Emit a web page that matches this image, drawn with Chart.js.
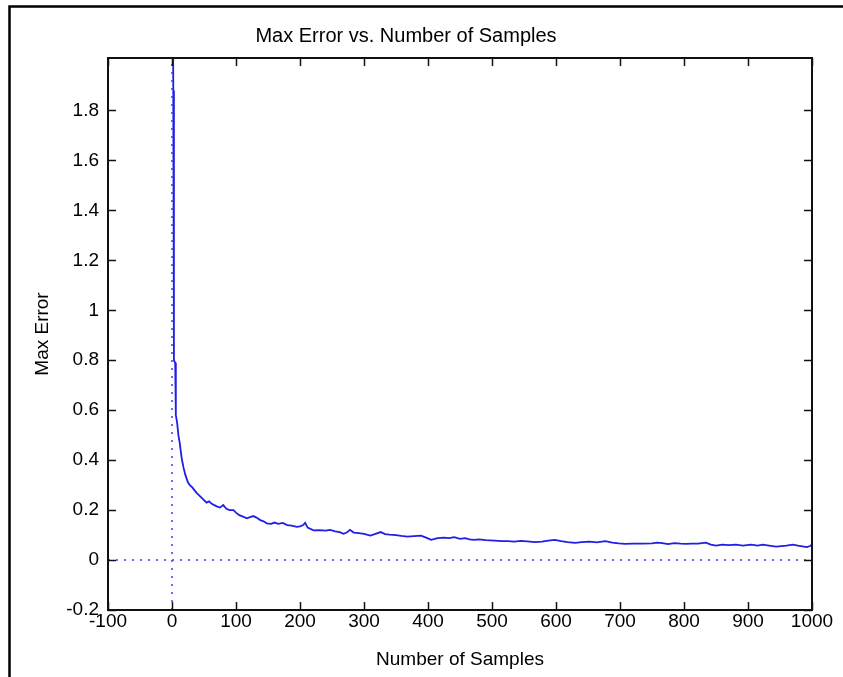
<!DOCTYPE html>
<html><head><meta charset="utf-8">
<script src="https://cdn.jsdelivr.net/npm/chart.js@4/dist/chart.umd.min.js"></script>
<style>html,body{margin:0;padding:0;background:#fff;}canvas{display:block;}</style>
</head><body>
<canvas id="c" width="843" height="677"></canvas>
<script>
const titleText = 'Max Error vs. Number of Samples';
const xAxisLabel = 'Number of Samples';
const yAxisLabel = 'Max Error';

const sampleCounts = [1,2,3,5,6,8,10,12,15,18,21,25,28,32,35,38,42,46,50,54,58,62,66,70,75,80,85,90,96,100,105,110,117,122,127,132,138,143,148,155,160,166,173,180,187,195,200,205,208,212,221,230,240,247,255,262,268,273,278,284,292,300,310,318,326,333,340,350,358,368,378,389,397,405,415,425,433,441,450,458,465,472,480,490,504,515,525,535,545,555,567,578,588,598,608,618,630,640,652,664,677,688,698,708,720,735,750,758,766,775,785,795,803,812,822,834,842,850,860,870,881,892,905,915,923,933,944,952,960,970,978,985,992,997,1000];
const maxErrors = [2.6,1.88,0.80,0.79,0.58,0.55,0.50,0.47,0.41,0.37,0.34,0.31,0.30,0.29,0.28,0.27,0.26,0.25,0.24,0.23,0.235,0.225,0.22,0.215,0.21,0.22,0.205,0.20,0.20,0.19,0.18,0.175,0.167,0.172,0.176,0.17,0.16,0.155,0.147,0.145,0.15,0.145,0.149,0.14,0.138,0.133,0.135,0.14,0.149,0.13,0.119,0.12,0.118,0.121,0.115,0.112,0.105,0.11,0.121,0.11,0.108,0.105,0.098,0.105,0.112,0.104,0.102,0.10,0.097,0.094,0.096,0.098,0.09,0.081,0.088,0.09,0.088,0.092,0.085,0.088,0.083,0.081,0.083,0.08,0.078,0.076,0.076,0.074,0.077,0.075,0.072,0.074,0.078,0.081,0.076,0.072,0.069,0.072,0.074,0.071,0.076,0.07,0.067,0.065,0.066,0.066,0.067,0.07,0.068,0.064,0.068,0.066,0.065,0.066,0.066,0.07,0.062,0.058,0.062,0.06,0.062,0.058,0.062,0.058,0.062,0.058,0.054,0.056,0.058,0.062,0.058,0.055,0.052,0.056,0.062];

const xLimits = [-100, 1000];
const yLimits = [-0.2, 2.01];
const xTickValues = [-100,0,100,200,300,400,500,600,700,800,900,1000];
const xTickLabels = ['-100','0','100','200','300','400','500','600','700','800','900','1000'];
const yTickValues = [-0.2,0,0.2,0.4,0.6,0.8,1,1.2,1.4,1.6,1.8];
const yTickLabels = ['-0.2','0','0.2','0.4','0.6','0.8','1','1.2','1.4','1.6','1.8'];

const zeroVerticalLine = [{x:0,y:yLimits[0]},{x:0,y:yLimits[1]}];
const zeroHorizontalLine = [{x:xLimits[0],y:0},{x:xLimits[1],y:0}];

const FONT = "'Liberation Sans', Arial, Helvetica, sans-serif";

const framePlugin = {
  id: 'frame',
  beforeDraw(chart) {
    const ctx = chart.ctx;
    ctx.save();
    ctx.fillStyle = '#fff';
    ctx.fillRect(0, 0, chart.width, chart.height);
    ctx.strokeStyle = '#000';
    ctx.lineWidth = 2.5;
    ctx.beginPath();
    ctx.moveTo(9.5, chart.height);
    ctx.lineTo(9.5, 6.5);
    ctx.lineTo(chart.width, 6.5);
    ctx.stroke();
    ctx.restore();
  },
  afterDraw(chart) {
    const {ctx, chartArea: a, scales: {x, y}} = chart;
    const L = 8;
    ctx.save();
    ctx.strokeStyle = '#111';
    ctx.lineWidth = 1.5;
    ctx.beginPath();
    x.ticks.forEach(t => {
      const px = Math.round(x.getPixelForValue(t.value)) + 0.5;
      ctx.moveTo(px, a.bottom); ctx.lineTo(px, a.bottom - L);
      ctx.moveTo(px, a.top); ctx.lineTo(px, a.top + L);
    });
    y.ticks.forEach(t => {
      const py = Math.round(y.getPixelForValue(t.value)) + 0.5;
      ctx.moveTo(a.left, py); ctx.lineTo(a.left + L, py);
      ctx.moveTo(a.right, py); ctx.lineTo(a.right - L, py);
    });
    ctx.stroke();
    ctx.lineWidth = 2;
    ctx.strokeStyle = '#111';
    ctx.strokeRect(a.left, a.top, a.right - a.left, a.bottom - a.top);
    ctx.restore();
  }
};

new Chart(document.getElementById('c'), {
  type: 'scatter',
  data: {
    datasets: [
      {data: zeroVerticalLine, showLine: true, pointRadius: 0, borderColor: '#3b3bff', borderWidth: 1.5, borderDash: [2, 6], fill: false},
      {data: zeroHorizontalLine, showLine: true, pointRadius: 0, borderColor: '#3b3bff', borderWidth: 1.5, borderDash: [2, 6], fill: false},
      {data: sampleCounts.map((s, i) => ({x: s, y: maxErrors[i]})), showLine: true, pointRadius: 0, borderColor: '#1f1fe6', borderWidth: 1.8, tension: 0, fill: false}
    ]
  },
  options: {
    responsive: false,
    animation: false,
    events: [],
    layout: {padding: {left: 0, right: 31, top: 0, bottom: 0}},
    plugins: {
      legend: {display: false},
      tooltip: {enabled: false},
      title: {display: true, text: titleText, color: '#000', font: {family: FONT, size: 20, weight: 'normal'}, padding: {top: 24, bottom: 10}}
    },
    scales: {
      x: {
        type: 'linear', min: xLimits[0], max: xLimits[1],
        afterBuildTicks: s => { s.ticks = xTickValues.map(v => ({value: v})); },
        afterFit: s => { s.height = 67; },
        grid: {display: false, drawTicks: false},
        border: {display: true, color: '#111', width: 2},
        ticks: {color: '#000', padding: 0, maxRotation: 0, autoSkip: false, font: {family: FONT, size: 19},
          callback: (v) => { const i = xTickValues.indexOf(v); return i >= 0 ? xTickLabels[i] : ''; }},
        title: {display: true, text: xAxisLabel, color: '#000', font: {family: FONT, size: 19}, padding: {top: 0, bottom: 5.6}}
      },
      y: {
        type: 'linear', min: yLimits[0], max: yLimits[1],
        afterBuildTicks: s => { s.ticks = yTickValues.map(v => ({value: v})); },
        afterFit: s => { s.width = 108; },
        grid: {display: false, drawTicks: false},
        border: {display: true, color: '#111', width: 2},
        ticks: {color: '#000', padding: 9, autoSkip: false, font: {family: FONT, size: 19},
          callback: (v) => { const i = yTickValues.findIndex(t => Math.abs(t - v) < 1e-9); return i >= 0 ? yTickLabels[i] : ''; }},
        title: {display: true, text: yAxisLabel, color: '#000', font: {family: FONT, size: 19}, padding: {top: 31, bottom: 0}}
      }
    }
  },
  plugins: [framePlugin]
});
</script>
</body></html>
